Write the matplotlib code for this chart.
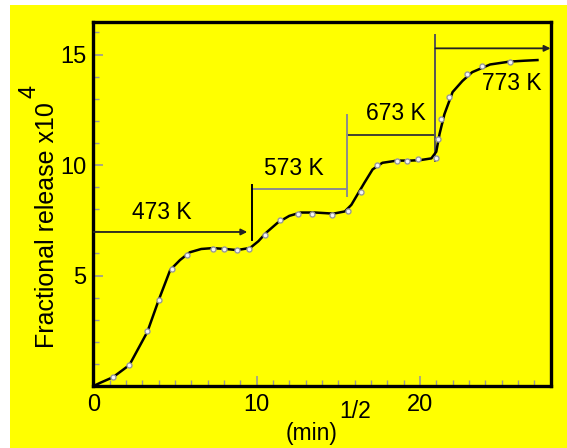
import numpy as np
import matplotlib
matplotlib.use("Agg")
import matplotlib.pyplot as plt
from matplotlib.patches import Rectangle
from matplotlib.ticker import MultipleLocator

# smooth release curve
curve_x = [0.0, 0.4, 1.2, 2.2, 3.3, 4.0, 4.7, 5.3, 5.9, 6.6, 7.3, 8.1, 8.8, 9.6,
           10.1, 10.6, 11.3, 12.0, 12.7, 13.6, 14.7, 15.4, 15.8, 16.2, 16.6, 17.1,
           17.7, 18.6, 19.4, 20.0, 20.7, 21.0, 21.2, 21.5, 22.0, 22.6, 23.2, 24.3,
           25.5, 26.4, 27.2]
curve_y = [0.0, 0.14, 0.4, 0.95, 2.45, 3.9, 5.25, 5.7, 6.05, 6.2, 6.24, 6.2, 6.15, 6.25,
           6.55, 6.95, 7.4, 7.7, 7.85, 7.85, 7.8, 7.9, 8.2, 8.7, 9.2, 9.8,
           10.1, 10.2, 10.2, 10.22, 10.3, 10.6, 11.4, 12.3, 13.3, 13.8, 14.2, 14.55,
           14.68, 14.72, 14.75]

# measured points (open circles)
pts_x = [1.2, 2.2, 3.3, 4.0, 4.8, 5.7, 7.3, 8.0, 8.8, 9.5, 10.5, 11.4, 12.5, 13.4,
         14.6, 15.6, 16.4, 17.4, 18.6, 19.2, 19.9, 21.0, 21.1, 21.3, 21.8, 22.9,
         23.8, 25.5]
pts_y = [0.4, 0.95, 2.5, 3.9, 5.3, 5.95, 6.2, 6.2, 6.15, 6.2, 6.85, 7.5, 7.8, 7.8,
         7.75, 7.9, 8.8, 10.0, 10.2, 10.2, 10.25, 10.3, 11.2, 12.1, 13.1, 14.1,
         14.5, 14.65]

# temperature steps
temps = ["473 K", "573 K", "673 K", "773 K"]
step_start = [0.0, 9.72, 15.55, 20.95]
step_end = [9.72, 15.55, 20.95, 28.0]
step_level = [6.97, 8.9, 11.36, 15.28]
label_x = [4.17, 12.27, 18.5, 25.64]
label_y = [7.83, 9.86, 12.35, 13.71]

font = ["Liberation Sans", "DejaVu Sans"]
yellow = "#ffff00"

fig = plt.figure(figsize=(5.67, 4.48), dpi=100, facecolor="white")
fig.patches.append(Rectangle((10 / 567, 0), 1 - 10 / 567, 443 / 448,
                             transform=fig.transFigure, facecolor=yellow,
                             edgecolor="none", zorder=-10))
ax = fig.add_axes([0.1649, 0.1384, 0.806, 0.8114])
ax.set_facecolor(yellow)

ax.plot(curve_x, curve_y, color="black", lw=1.8, zorder=3)
ax.plot(pts_x, pts_y, "o", ms=3.6, mfc="#f4f4f4", mec="#9a9a9a", mew=1, zorder=4)

# step lines
ax.annotate("", xy=(step_end[0] - 0.3, step_level[0]), xytext=(step_start[0], step_level[0]),
            arrowprops=dict(arrowstyle="-|>", color="#222222", lw=1.3,
                            shrinkA=0, shrinkB=0, mutation_scale=9))
ax.plot([step_start[1], step_end[1]], [step_level[1]] * 2, color="#8c8c8c", lw=1.4)
ax.plot([step_start[2], step_end[2]], [step_level[2]] * 2, color="#333333", lw=1.3)
ax.annotate("", xy=(step_end[3], step_level[3]), xytext=(step_start[3], step_level[3]),
            arrowprops=dict(arrowstyle="-|>", color="#222222", lw=1.3,
                            shrinkA=0, shrinkB=0, mutation_scale=9))
ax.plot([9.72, 9.72], [6.6, 9.1], color="black", lw=1.4)
ax.plot([15.55, 15.55], [8.6, 12.26], color="#8c8c8c", lw=1.4)
ax.plot([20.95, 20.95], [10.2, 15.9], color="#555555", lw=1.4)

for t, lx, ly in zip(temps, label_x, label_y):
    ax.text(lx, ly, t, ha="center", va="center", fontsize=16.5, family=font)

ax.set_xlim(0, 28)
ax.set_ylim(0, 16.45)
ax.set_xticks([0, 10, 20])
ax.set_yticks([5, 10, 15])
ax.xaxis.set_minor_locator(MultipleLocator(1))
ax.yaxis.set_minor_locator(MultipleLocator(1))
ax.tick_params(which="both", direction="in", color="#999999", top=False, right=False)
ax.tick_params(which="major", length=7, width=1.2)
ax.tick_params(which="minor", length=4, width=1)
ax.tick_params(axis="x", pad=6)
ax.tick_params(axis="y", pad=5)
for lab in ax.get_xticklabels() + ax.get_yticklabels():
    lab.set_family(font)
    lab.set_fontsize(17)
for s in ax.spines.values():
    s.set_linewidth(2.4)

fig.text(47 / 567, 1 - 225 / 448, "Fractional release x10", rotation=90,
         ha="center", va="center", fontsize=18, family=font)
fig.text(29 / 567, 1 - 91 / 448, "4", rotation=90, ha="center", va="center",
         fontsize=17, family=font)
fig.text(312 / 567, 1 - 433 / 448, "(min)", ha="center", va="center",
         fontsize=16.5, family=font)
fig.text(355 / 567, 1 - 412 / 448, "1/2", ha="center", va="center",
         fontsize=16.5, family=font)

fig.savefig("out.png", dpi=100, facecolor=fig.get_facecolor())
